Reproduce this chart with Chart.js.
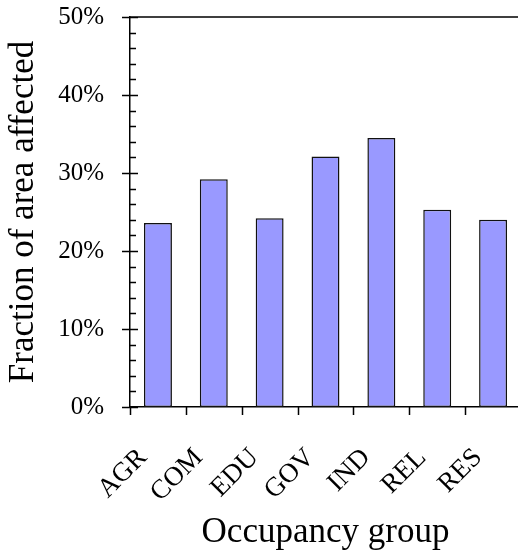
<!DOCTYPE html>
<html>
<head>
<meta charset="utf-8">
<script src="https://cdn.jsdelivr.net/npm/chart.js@4/dist/chart.umd.min.js"></script>
<style>
  html, body { margin: 0; padding: 0; overflow: hidden; background: #fff; }
  #wrap { width: 521px; height: 554px; }
</style>
</head>
<body>
<div id="wrap"><canvas id="occupancy"></canvas></div>
<script>
var categories = ['AGR', 'COM', 'EDU', 'GOV', 'IND', 'REL', 'RES'];
var fractionAffected = [23.6, 29.2, 24.2, 32.1, 34.5, 25.3, 24.0];
var yTicks = [0, 10, 20, 30, 40, 50];
var yMinorStep = 2;

var serif = '"Liberation Serif", "Times New Roman", serif';

// axis ticks drawn by hand: major ones cross the axis, minor ones only inside
var axisTicks = {
  id: 'axisTicks',
  afterDraw: function(chart) {
    var ctx = chart.ctx;
    var area = chart.chartArea;
    var y = chart.scales.y;
    var x = chart.scales.x;
    ctx.save();
    ctx.strokeStyle = '#000';
    ctx.lineWidth = 1.5;
    ctx.beginPath();
    // top frame line
    ctx.moveTo(area.left, area.top);
    ctx.lineTo(area.right, area.top);
    for (var v = yTicks[0]; v <= yTicks[yTicks.length - 1]; v += yMinorStep) {
      var py = Math.round(y.getPixelForValue(v)) + 0.5;
      if (yTicks.indexOf(v) >= 0) {
        ctx.moveTo(area.left - 8, py);
        ctx.lineTo(area.left + 8, py);
      } else {
        ctx.moveTo(area.left, py);
        ctx.lineTo(area.left + 6, py);
      }
    }
    for (var i = 0; i <= categories.length; i++) {
      var px = Math.round(x.getPixelForValue(i - 0.5)) + 0.5;
      ctx.moveTo(px, area.bottom);
      ctx.lineTo(px, area.bottom + 8);
    }
    ctx.stroke();
    ctx.restore();
  }
};

function noScalePadding(scale) {
  scale.paddingTop = 0;
  scale.paddingBottom = 0;
  scale.paddingLeft = 0;
  scale.paddingRight = 0;
}

var ctx = document.getElementById('occupancy').getContext('2d');
new Chart(ctx, {
  type: 'bar',
  data: {
    labels: categories,
    datasets: [{
      label: 'Fraction of area affected',
      data: fractionAffected,
      backgroundColor: '#9999ff',
      borderColor: '#111',
      borderWidth: 1.5,
      borderSkipped: false,
      categoryPercentage: 1,
      barPercentage: 0.5
    }]
  },
  options: {
    responsive: true,
    maintainAspectRatio: false,
    animation: false,
    layout: { padding: { top: 17, left: 0, right: 0, bottom: 0 } },
    plugins: {
      legend: { display: false },
      tooltip: { enabled: false }
    },
    scales: {
      x: {
        grid: { display: false, drawTicks: false, tickLength: 0 },
        border: { display: true, color: '#000', width: 1.5 },
        ticks: {
          autoSkip: false,
          minRotation: 45,
          maxRotation: 45,
          padding: 35,
          labelOffset: -15,
          color: '#000',
          font: { family: serif, size: 27 }
        },
        title: {
          display: true,
          text: 'Occupancy group',
          color: '#000',
          font: { family: serif, size: 35 },
          padding: { top: 0, bottom: 0 }
        },
        afterFit: function(scale) {
          scale.height = 147;
          noScalePadding(scale);
        }
      },
      y: {
        min: 0,
        max: 50,
        grid: { display: false, drawTicks: false, tickLength: 0 },
        border: { display: true, color: '#000', width: 1.5 },
        afterBuildTicks: function(scale) {
          scale.ticks = yTicks.map(function(v) { return { value: v }; });
        },
        ticks: {
          padding: 26,
          color: '#000',
          font: { family: serif, size: 25 },
          callback: function(v) { return v + '%'; }
        },
        title: {
          display: true,
          text: 'Fraction of area affected',
          color: '#000',
          font: { family: serif, size: 35 },
          padding: { top: 3, bottom: 0 }
        },
        afterFit: function(scale) {
          scale.width = 130;
          noScalePadding(scale);
        }
      }
    }
  },
  plugins: [axisTicks]
});
</script>
</body>
</html>
